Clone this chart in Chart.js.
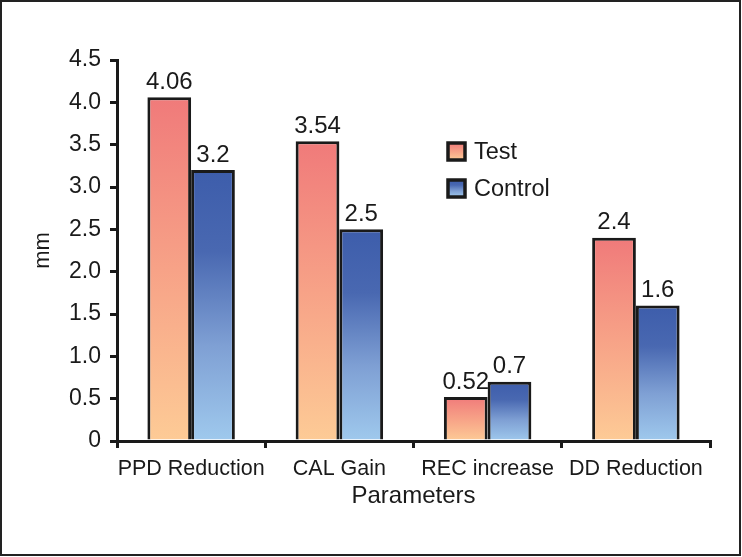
<!DOCTYPE html>
<html><head><meta charset="utf-8">
<script src="https://cdn.jsdelivr.net/npm/chart.js@4"></script>
<style>html,body{margin:0;padding:0;background:#fff}#wrap{position:relative;width:742px;height:557px}canvas{display:block}</style>
</head><body><div id="wrap"><canvas id="c" width="742" height="557"></canvas></div>
<script>
const categories = ['PPD Reduction', 'CAL Gain', 'REC increase', 'DD Reduction'];
const seriesNames = ['Test', 'Control'];
const testValues = [4.06, 3.54, 0.52, 2.4];
const controlValues = [3.2, 2.5, 0.7, 1.6];
const yTickLabels = ['0', '0.5', '1.0', '1.5', '2.0', '2.5', '3.0', '3.5', '4.0', '4.5'];
const xTitle = 'Parameters';
const yTitle = 'mm';

const FONT = "'Liberation Sans', Arial, sans-serif";
const INK = '#1a1a1a';
const testStops = [[0, '#f07a7a'], [0.5, '#f7a287'], [1, '#fdcb96']];
const ctrlStops = [[0, '#3d5dab'], [0.3, '#4968b1'], [0.65, '#7fa0d4'], [1, '#9fc9ed']];

function grad(ctx, stops) {
  const chart = ctx.chart;
  if (!chart.chartArea || ctx.type !== 'data') return stops[0][1];
  const ys = chart.scales.y;
  const top = ys.getPixelForValue(ctx.raw);
  const bot = ys.getPixelForValue(0);
  const g = chart.ctx.createLinearGradient(0, top, 0, bot);
  stops.forEach(s => g.addColorStop(s[0], s[1]));
  return g;
}

const labelPlugin = {
  id: 'valueLabels',
  afterDatasetsDraw(chart) {
    const c = chart.ctx;
    c.save();
    c.font = '24px ' + FONT;
    c.fillStyle = INK;
    c.textAlign = 'center';
    c.textBaseline = 'bottom';
    chart.data.datasets.forEach((ds, i) => {
      chart.getDatasetMeta(i).data.forEach((el, j) => {
        c.fillText(String(ds.data[j]), el.x, el.y - 3);
      });
    });
    c.restore();
  }
};

const legendPlugin = {
  id: 'customLegend',
  afterDraw(chart) {
    const c = chart.ctx;
    c.save();
    const stopsList = [testStops, ctrlStops];
    chart.data.datasets.forEach((ds, i) => {
      const x = 448, y = 143 + 37 * i, s = 17;
      const g = c.createLinearGradient(0, y, 0, y + s);
      stopsList[i].forEach(st => g.addColorStop(st[0], st[1]));
      c.fillStyle = g;
      c.fillRect(x, y, s, s);
      c.lineWidth = 3.5;
      c.strokeStyle = INK;
      c.strokeRect(x, y, s, s);
      c.font = '23.5px ' + FONT;
      c.fillStyle = INK;
      c.textAlign = 'left';
      c.textBaseline = 'middle';
      c.fillText(ds.label, 474, y + s / 2 + 1);
    });
    // outer frame
    c.lineWidth = 2;
    c.strokeStyle = '#222';
    c.strokeRect(1, 1, 739, 554);
    c.restore();
  }
};

new Chart(document.getElementById('c'), {
  type: 'bar',
  data: {
    labels: categories,
    datasets: [
      { label: seriesNames[0], data: testValues, backgroundColor: ctx => grad(ctx, testStops), borderColor: INK, borderWidth: 3, borderSkipped: 'bottom' },
      { label: seriesNames[1], data: controlValues, backgroundColor: ctx => grad(ctx, ctrlStops), borderColor: INK, borderWidth: 3, borderSkipped: 'bottom' }
    ]
  },
  options: {
    responsive: false,
    animation: false,
    devicePixelRatio: 1,
    layout: { padding: { top: 60, right: 32, left: 0, bottom: 43 } },
    datasets: { bar: { barPercentage: 1.0, categoryPercentage: 0.59 } },
    plugins: { legend: { display: false }, tooltip: { enabled: false } },
    scales: {
      x: {
        type: 'category',
        offset: true,
        grid: { offset: true, drawOnChartArea: false, drawTicks: true, tickLength: 7, color: INK, lineWidth: 3 },
        border: { display: true, color: INK, width: 3 },
        ticks: { color: INK, font: { family: FONT, size: 21.5 }, padding: 8, maxRotation: 0, autoSkip: false },
        title: { display: true, text: xTitle, color: INK, font: { family: FONT, size: 24 }, padding: { top: 0, bottom: 3 } },
        afterFit: s => { s.height = 73; }
      },
      y: {
        min: 0, max: 4.5,
        grid: { drawOnChartArea: false, drawTicks: true, tickLength: 7, color: INK, lineWidth: 3 },
        border: { display: true, color: INK, width: 3 },
        ticks: { stepSize: 0.5, color: INK, font: { family: FONT, size: 23 }, padding: 9, callback: (v, i) => yTickLabels[i] },
        title: { display: true, text: yTitle, color: INK, font: { family: FONT, size: 22 }, padding: { top: 30, bottom: 0 } },
        afterFit: s => { s.width = 117; }
      }
    }
  },
  plugins: [labelPlugin, legendPlugin]
});
</script>
</body></html>
